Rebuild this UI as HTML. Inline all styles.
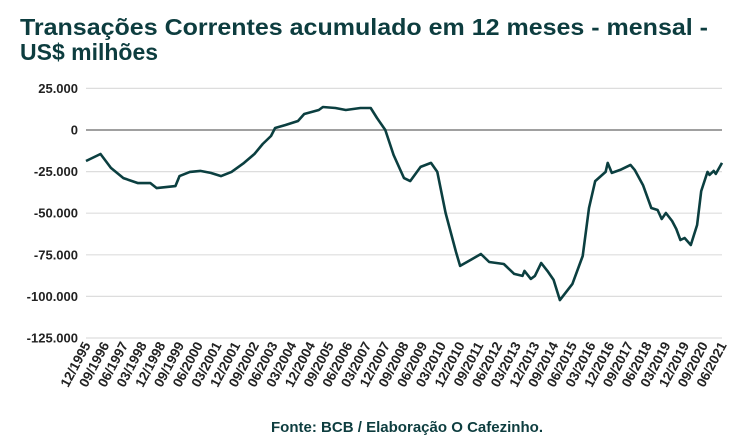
<!DOCTYPE html>
<html><head><meta charset="utf-8"><style>
body{margin:0;background:#fff;}
svg{display:block;font-family:"Liberation Sans",sans-serif;}
</style></head><body>
<svg id="chart" width="740" height="442" viewBox="0 0 740 442">
<text x="20" y="35" font-size="23" font-weight="bold" fill="#0d3d3f" textLength="688" lengthAdjust="spacingAndGlyphs">Transações Correntes acumulado em 12 meses - mensal -</text>
<text x="20" y="60" font-size="23" font-weight="bold" fill="#0d3d3f">US$ milhões</text>
<g id="grid"></g><g id="yl"></g><g id="xl"></g><g id="series"></g>
<text x="407" y="432" font-size="15" font-weight="bold" fill="#0d3d3f" text-anchor="middle" textLength="272" lengthAdjust="spacingAndGlyphs">Fonte: BCB / Elaboração O Cafezinho.</text>
</svg>
<script>
const yTicks=[25000,0,-25000,-50000,-75000,-100000,-125000];
const yTickLabels=["25.000","0","-25.000","-50.000","-75.000","-100.000","-125.000"];
const xTickLabels=["12/1995","09/1996","06/1997","03/1998","12/1998","09/1999","06/2000","03/2001","12/2001","09/2002","06/2003","03/2004","12/2004","09/2005","06/2006","03/2007","12/2007","09/2008","06/2009","03/2010","12/2010","09/2011","06/2012","03/2013","12/2013","09/2014","06/2015","03/2016","12/2016","09/2017","06/2018","03/2019","12/2019","09/2020","06/2021"];
const months=[0,7,12,18,25,31,34,43,45,50,55,60,65,70,76,81,85,89,91,96,102,105,112,114,120,125,132,137,140,144,148,153,156,161,166,169,173,178,180,185,190,194,201,206,210,211,214,216,219,222,225,228,234,239,242,245,250,251,253,257,262,264,268,272,275,277,279,282,284,286,288,291,294,296,299,300,302,303,306];
const values=[-18600,-14400,-22800,-28900,-31900,-31900,-34900,-33700,-27700,-25200,-24600,-25800,-27700,-25200,-19800,-14400,-8400,-3600,1200,3000,5400,9600,12000,13800,13200,12000,13200,13200,7200,0,-15000,-28900,-30700,-22200,-19800,-25200,-49900,-73300,-81700,-78100,-74500,-79300,-80500,-86500,-87700,-84700,-89500,-87700,-79900,-84700,-90100,-102200,-92500,-75700,-46900,-30700,-25200,-19800,-25800,-24000,-21000,-24000,-33100,-46900,-48100,-53500,-49900,-54700,-59500,-66100,-64900,-69100,-57100,-36700,-25200,-27000,-24600,-26400,-19800];
const X0=86,X1=722,MMAX=306;
const xs=m=>X0+(m/MMAX)*(X1-X0);
const ys=v=>130-(v/25000)*41.6;
const NS="http://www.w3.org/2000/svg";
const g=document.getElementById('grid'),yl=document.getElementById('yl'),xl=document.getElementById('xl'),sg=document.getElementById('series');
yTicks.forEach((t,i)=>{
 const l=document.createElementNS(NS,'line');
 
 
 l.setAttribute('x1',X0);l.setAttribute('x2',X1);l.setAttribute('y1',ys(t));l.setAttribute('y2',ys(t));
 l.setAttribute('stroke',t===0?'#808080':'#dddddd');l.setAttribute('stroke-width',t===0?1.6:1.2);
 g.appendChild(l);
 const tx=document.createElementNS(NS,'text');
 
 
 tx.setAttribute('x',78);tx.setAttribute('y',ys(t)+4.5);tx.setAttribute('text-anchor','end');
 tx.setAttribute('font-size','13');tx.setAttribute('font-weight','bold');tx.setAttribute('fill','#222');
 tx.textContent=yTickLabels[i];yl.appendChild(tx);
});
xTickLabels.forEach((s,i)=>{
 const x=xs(i*9)+5,y=345;
 const tx=document.createElementNS(NS,'text');
 
 
 tx.setAttribute('x',x);tx.setAttribute('y',y);tx.setAttribute('text-anchor','end');
 tx.setAttribute('font-size','13.5');tx.setAttribute('font-weight','bold');tx.setAttribute('fill','#222');
 tx.setAttribute('transform','rotate(-62 '+x+' '+y+')');
 tx.textContent=s;xl.appendChild(tx);
});
const p=document.createElementNS(NS,'path');


p.setAttribute('d',months.map((m,i)=>(i?'L':'M')+xs(m).toFixed(1)+' '+ys(values[i]).toFixed(1)).join(' '));
p.setAttribute('fill','none');p.setAttribute('stroke','#0b3f40');p.setAttribute('stroke-width','2.6');p.setAttribute('stroke-linejoin','round');
sg.appendChild(p);
</script>
</body></html>
